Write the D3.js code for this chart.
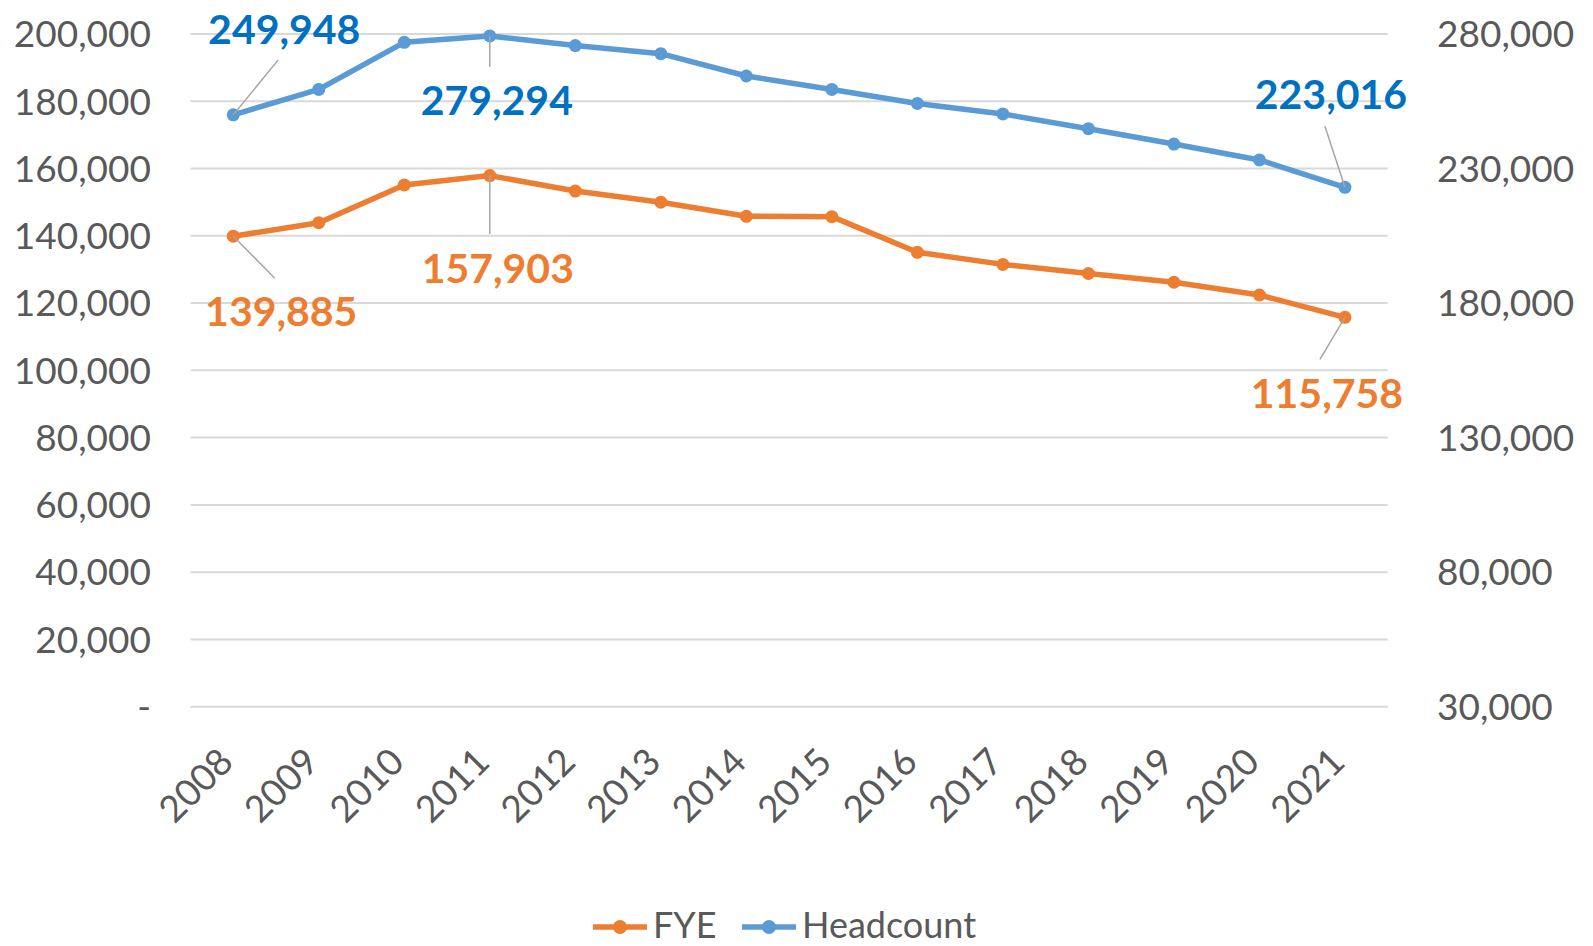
<!DOCTYPE html>
<html>
<head>
<meta charset="utf-8">
<script src="https://cdn.jsdelivr.net/npm/d3@7"></script>
<style>
  html, body { margin: 0; padding: 0; background: #fff; }
  svg { display: block; font-family: Lato, "Open Sans", sans-serif; }
  .tick-label { fill: #595959; font-size: 37px; }
  .legend-label { fill: #595959; font-size: 36px; }
  .grid-line { stroke: #D9D9D9; stroke-width: 2; }
  .leader { stroke: #A6A6A6; stroke-width: 1.5; fill: none; }
  .data-label { font-size: 41px; font-weight: 700; }
</style>
</head>
<body>
<svg id="chart"></svg>
<script>
const years      = ['2008','2009','2010','2011','2012','2013','2014','2015','2016','2017','2018','2019','2020','2021'];
const fye        = [139885, 143900, 155100, 157903, 153300, 150000, 145800, 145700, 135100, 131500, 128800, 126200, 122400, 115758];
const headcount  = [249948, 259400, 276900, 279294, 275700, 272700, 264400, 259400, 254200, 250300, 244800, 239100, 233200, 223016];
const leftTicks  = [0, 20000, 40000, 60000, 80000, 100000, 120000, 140000, 160000, 180000, 200000];
const rightTicks = [30000, 80000, 130000, 180000, 230000, 280000];
const fyeLabelIdx = [0, 3, 13];
const hcLabelIdx  = [0, 3, 13];

const SVG_W = 1593;
const SVG_H = 946;
const PLOT = { left: 190.5, right: 1387.7, top: 34, bottom: 706.7 };

const ORANGE = '#ED7D31';
const BLUE   = '#5B9BD5';
const BLUE_LABEL = '#0070C0';

const xScale = d3.scaleBand().domain(years).range([PLOT.left, PLOT.right]);
const yLeft  = d3.scaleLinear().domain([0, 200000]).range([PLOT.bottom, PLOT.top]);
const yRight = d3.scaleLinear().domain([30000, 280000]).range([PLOT.bottom, PLOT.top]);
const cx = d => xScale(d) + xScale.bandwidth() / 2;
const fmt = d3.format(',');

// label offsets from the marker: [dx, baseline dy, leader end dx, leader end dy, leader start dx, leader start dy]
const fyeLabelPos = [
  [48, 90, 41.5, 42, 0, 0],
  [8, 107, 0, 58.5, 0, 0],
  [-18, 91, -25, 42, 0, 0]
];
const hcLabelPos = [
  [51, -71, 45, -55, 0, 0],
  [7, 79, 0, 31, 0, 0],
  [-14, -78, -20, -61, 0, 0]
];

const svg = d3.select('#chart')
  .attr('width', SVG_W)
  .attr('height', SVG_H)
  .attr('viewBox', `0 0 ${SVG_W} ${SVG_H}`);

svg.append('rect').attr('width', SVG_W).attr('height', SVG_H).attr('fill', '#fff');

// gridlines
svg.append('g').selectAll('line')
  .data(leftTicks)
  .join('line')
  .attr('class', 'grid-line')
  .attr('x1', PLOT.left).attr('x2', PLOT.right)
  .attr('y1', d => yLeft(d)).attr('y2', d => yLeft(d));

// left axis labels
svg.append('g').selectAll('text')
  .data(leftTicks)
  .join('text')
  .attr('class', 'tick-label')
  .attr('x', 151)
  .attr('y', d => yLeft(d))
  .attr('dy', '0.36em')
  .attr('text-anchor', 'end')
  .text(d => d === 0 ? '-' : fmt(d));

// right axis labels
svg.append('g').selectAll('text')
  .data(rightTicks)
  .join('text')
  .attr('class', 'tick-label')
  .attr('x', 1437)
  .attr('y', d => yRight(d))
  .attr('dy', '0.36em')
  .attr('text-anchor', 'start')
  .text(d => fmt(d));

// x axis labels
svg.append('g').selectAll('text')
  .data(years)
  .join('text')
  .attr('class', 'tick-label')
  .attr('text-anchor', 'end')
  .attr('transform', d => `translate(${cx(d) + 2},${764}) rotate(-45)`)
  .text(d => d);

function drawSeries(values, yScale, color) {
  const line = d3.line()
    .x((d, i) => cx(years[i]))
    .y(d => yScale(d));
  svg.append('path')
    .datum(values)
    .attr('d', line)
    .attr('fill', 'none')
    .attr('stroke', color)
    .attr('stroke-width', 5.5)
    .attr('stroke-linejoin', 'round');
  svg.append('g').selectAll('circle')
    .data(values)
    .join('circle')
    .attr('cx', (d, i) => cx(years[i]))
    .attr('cy', d => yScale(d))
    .attr('r', 6.5)
    .attr('fill', color);
}

drawSeries(fye, yLeft, ORANGE);
drawSeries(headcount, yRight, BLUE);

function drawLabels(values, yScale, idxs, pos, color) {
  const g = svg.append('g');
  idxs.forEach((idx, k) => {
    const px = cx(years[idx]);
    const py = yScale(values[idx]);
    const p  = pos[k];
    g.append('line')
      .attr('class', 'leader')
      .attr('x1', px + p[4]).attr('y1', py + p[5])
      .attr('x2', px + p[2]).attr('y2', py + p[3]);
    g.append('text')
      .attr('class', 'data-label')
      .attr('x', px + p[0])
      .attr('y', py + p[1])
      .attr('text-anchor', 'middle')
      .attr('fill', color)
      .text(fmt(values[idx]));
  });
}

drawLabels(fye, yLeft, fyeLabelIdx, fyeLabelPos, ORANGE);
drawLabels(headcount, yRight, hcLabelIdx, hcLabelPos, BLUE_LABEL);

// legend
const legend = [
  { name: 'FYE', color: ORANGE, x: 593 },
  { name: 'Headcount', color: BLUE, x: 742 }
];
const lg = svg.append('g');
legend.forEach(l => {
  lg.append('line')
    .attr('x1', l.x).attr('x2', l.x + 54)
    .attr('y1', 927).attr('y2', 927)
    .attr('stroke', l.color).attr('stroke-width', 5.5);
  lg.append('circle')
    .attr('cx', l.x + 27).attr('cy', 927).attr('r', 7)
    .attr('fill', l.color);
  lg.append('text')
    .attr('class', 'legend-label')
    .attr('x', l.x + 60)
    .attr('y', 938)
    .text(l.name);
});
</script>
</body>
</html>
